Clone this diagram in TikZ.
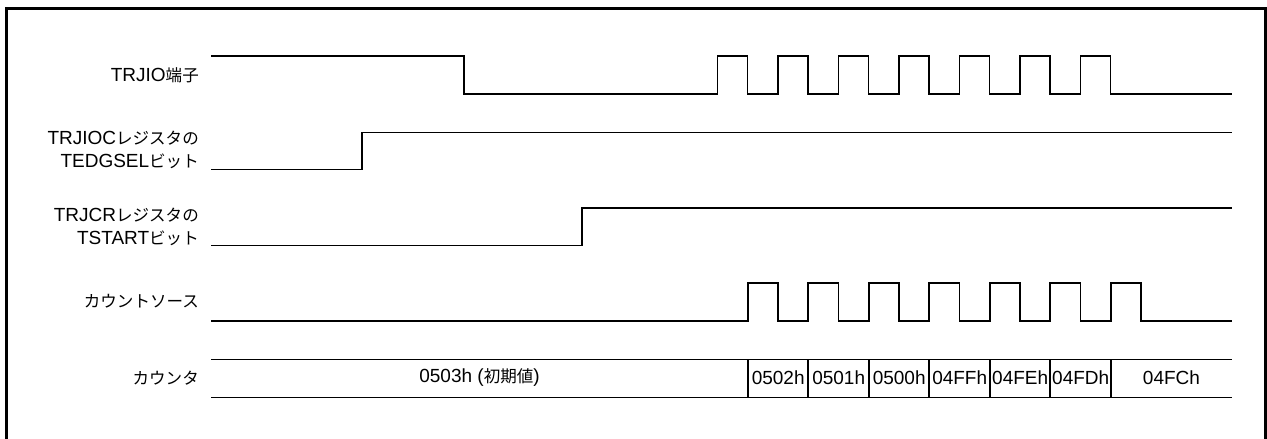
\documentclass[tikz,border=0pt]{standalone}
\usepackage{fontspec}
\setmainfont{Liberation Sans}
\newfontfamily\jpfont[Scale=0.87]{Noto Sans CJK JP}
\usetikzlibrary{positioning}

\begin{document}
\begin{tikzpicture}[x=1pt,y=-1pt,
    sig/.style={line width=1.6pt,line join=miter},
    sigtext/.style={anchor=east,align=right,inner sep=0pt,font=\fontsize{19}{23}\selectfont},
    cntval/.style={inner sep=0pt,font=\fontsize{19}{23}\selectfont}]
			\useasboundingbox (0,0) rectangle (1267,439);
			\clip (0,0) rectangle (1267,439);
			\draw[line width=2.8pt] (6.3,8.7) rectangle (1265.5,470);
			
			% TRJIO pin
			\node[sigtext] (trjio) at (199,75) {TRJIO{\jpfont 端子}};
			\draw[sig] (211,56) -- (464,56) -- (464,94) -- (717.3,94)
			  \foreach \k in {0,...,6} {
			    -- (717.3+60.5*\k,94) -- (717.3+60.5*\k,56)
			    -- (747.6+60.5*\k,56) -- (747.6+60.5*\k,94) }
			  -- (1232.3,94);
			
			% TEDGSEL bit
			\node[sigtext] (tedgsel) at (199,150) {TRJIOC{\jpfont レジスタの}\\TEDGSEL{\jpfont ビット}};
			\draw[sig] (211,169.3) -- (362,169.3) -- (362,132.3) -- (1232.3,132.3);
			
			% TSTART bit
			\node[sigtext] (tstart) at (199,227) {TRJCR{\jpfont レジスタの}\\TSTART{\jpfont ビット}};
			\draw[sig] (211,245.3) -- (581.7,245.3) -- (581.7,207.7) -- (1232.3,207.7);
			
			% count source
			\node[sigtext] (cntsrc) at (199,301) {{\jpfont カウントソース}};
			\draw[sig] (211,321) -- (747.7,321)
			  \foreach \k in {0,...,6} {
			    -- (747.7+60.5*\k,321) -- (747.7+60.5*\k,282.7)
			    -- (778+60.5*\k,282.7) -- (778+60.5*\k,321) }
			  -- (1232.3,321);
			
			% counter
			\node[sigtext] (counter) at (199,378) {{\jpfont カウンタ}};
			\draw[sig] (211,359.3) -- (1232.3,359.3);
			\draw[sig] (211,397.3) -- (1232.3,397.3);
			\foreach \k in {0,...,6}
			  \draw[sig] (747.7+60.5*\k,359.3) -- (747.7+60.5*\k,397.3);
			\node[cntval] (cnt0) at (479.5,378) {0503h ({\jpfont 初期値})};
			\foreach \v [count=\i] in {0502h,0501h,0500h,04FFh,04FEh,04FDh}
			  \node[cntval] (cnt\i) at (717.7+60.5*\i,378) {\v};
			\node[cntval] (cnt7) at (1171.5,378) {04FCh};
		\end{tikzpicture}
\end{document}
